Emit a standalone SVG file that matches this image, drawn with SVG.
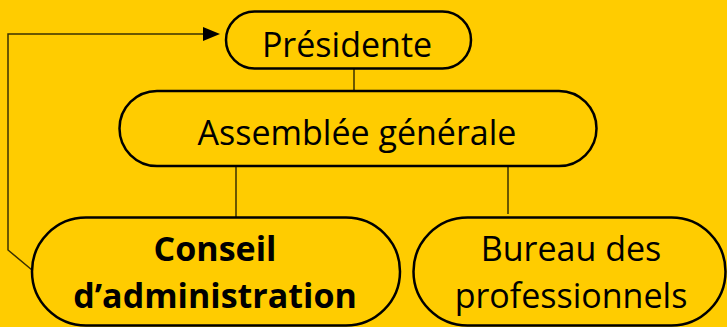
<svg xmlns="http://www.w3.org/2000/svg" width="727" height="327" viewBox="0 0 727 327">
<defs>
<style>
.box{fill:#FFCC00;stroke:#000;stroke-width:2.5}
.t{font-family:"Open Sans","Liberation Sans",sans-serif;font-size:34px;fill:#000;text-anchor:middle}
.b{font-weight:bold}
.c{stroke:#3a3000;stroke-width:1.5;fill:none}
</style>
</defs>
<rect width="727" height="327" fill="#FFCC00"/>
<g id="connectors">
<line class="c" x1="354" y1="68" x2="354" y2="91"/>
<line class="c" x1="236" y1="166" x2="236" y2="217"/>
<line class="c" x1="508" y1="166" x2="508" y2="214"/>
<path class="c" d="M32,270 L8,250 L8,34 L210,34" stroke="#000"/>
<path d="M203,27 L220,34 L203,41 Z" fill="#000"/>
</g>
<g id="presidente">
<rect class="box" x="226" y="11.5" width="245" height="57" rx="28.5"/>
<text class="t" x="347" y="57">Présidente</text>
</g>
<g id="assemblee">
<rect class="box" x="119.5" y="91" width="477" height="75" rx="37.5"/>
<text class="t" x="357" y="145">Assemblée générale</text>
</g>
<g id="conseil">
<rect class="box" x="32" y="217.5" width="368" height="108" rx="54"/>
<text class="t b" x="215" y="261">Conseil</text>
<text class="t b" x="215" y="308">d’administration</text>
</g>
<g id="bureau">
<rect class="box" x="413.5" y="217.5" width="312" height="108" rx="54"/>
<text class="t" x="571" y="261">Bureau des</text>
<text class="t" x="571" y="308">professionnels</text>
</g>
</svg>
